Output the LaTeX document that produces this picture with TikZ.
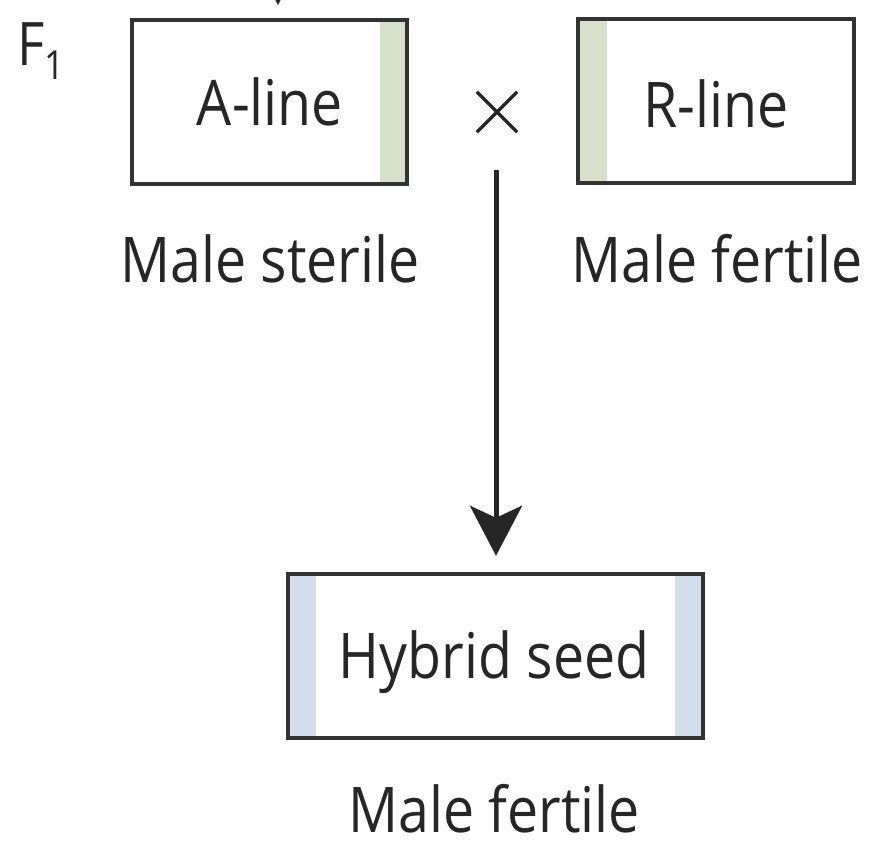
\documentclass[tikz,border=0pt]{standalone}
\usepackage{fontspec}
\setmainfont{Open Sans}[FakeStretch=0.88]
\usetikzlibrary{arrows.meta}
\definecolor{txt}{HTML}{262626}
\definecolor{edge}{HTML}{333333}
\definecolor{greenstrip}{HTML}{D6E0CA}
\definecolor{bluestrip}{HTML}{D4DEEA}
\tikzset{
  lbl/.style={text=txt, anchor=base, inner sep=0pt, font=\fontsize{63}{70}\selectfont},
  frame/.style={draw=edge, line width=4pt},
  conn/.style={draw=black!85, line width=5pt, -{Stealth[length=50pt,width=52pt,inset=12pt]}}
}
\begin{document}
\begin{tikzpicture}[x=1pt,y=-1pt]
\useasboundingbox (0,0) rectangle (874,851);
\clip (0,0) rectangle (874,851);
% boxes
\fill[greenstrip] (380,20) rectangle (407,184);
\draw[frame] (132,20) rectangle (407,184);
\node[inner sep=0pt, minimum width=275pt, minimum height=164pt] (A) at (269.5,102) {};
\fill[greenstrip] (578,19) rectangle (607,183);
\draw[frame] (578,19) rectangle (854,183);
\node[inner sep=0pt, minimum width=276pt, minimum height=164pt] (R) at (716,101) {};
\fill[bluestrip] (288,574) rectangle (316,738);
\fill[bluestrip] (675,574) rectangle (703,738);
\draw[frame] (288,574) rectangle (703,738);
\node[inner sep=0pt, minimum width=415pt, minimum height=164pt] (H) at (495.5,656) {};
% texts
\node[lbl] (At) at (270,125) {A-line};
\node[lbl] (Rt) at (716,127) {R-line};
\node[lbl] (Ht) at (494,678) {Hybrid seed};
\node[lbl] (ms) at (270,282) {Male sterile};
\node[lbl] (mf1) at (717,282) {Male fertile};
\node[lbl] (mf2) at (494,832) {Male fertile};
\node[lbl, anchor=base west, font=\fontsize{60}{66}\selectfont] (F) at (17,65) {F\raisebox{-14pt}{\fontsize{40}{44}\selectfont 1}};
% cross
\node[inner sep=0pt, minimum size=40pt] (X) at (497,112) {};
\draw[txt, line width=3.5pt] (X.north west) -- (X.south east) (X.south west) -- (X.north east);
% arrows
\coordinate (s) at (496,170);
\draw[conn, shorten >=18pt] (s) -- (H.north -| s);
\coordinate (up) at (278,-40);
\draw[conn] (up) -- (278,5);
\end{tikzpicture}
\end{document}
